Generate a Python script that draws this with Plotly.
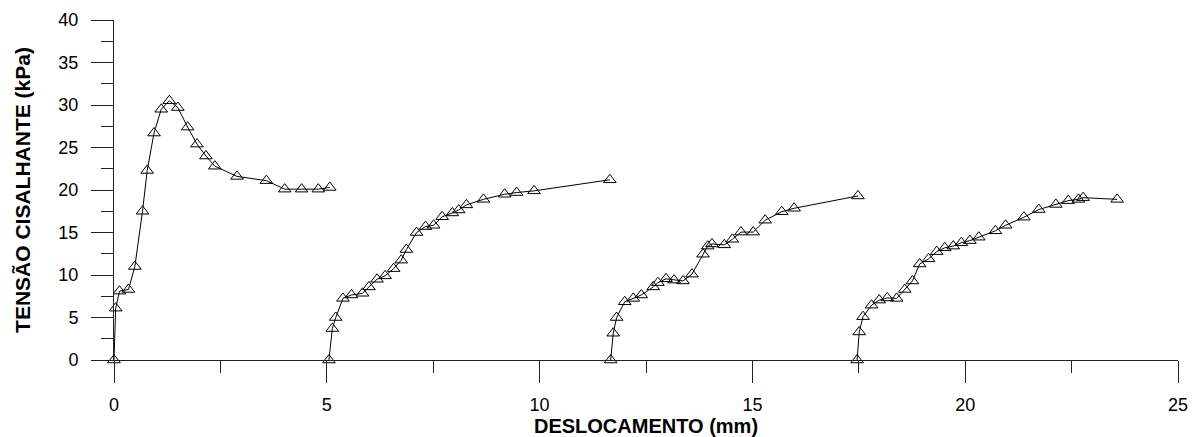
import plotly.graph_objects as go

# Ensaio 1
x1 = [0.0, 0.04, 0.13, 0.34, 0.49, 0.67, 0.78, 0.94, 1.11, 1.30, 1.50, 1.73, 1.95, 2.16, 2.37, 2.89, 3.58, 4.01, 4.41, 4.80, 5.07]
y1 = [0.0, 6.1, 8.1, 8.3, 11.0, 17.5, 22.3, 26.7, 29.5, 30.5, 29.7, 27.4, 25.4, 24.0, 22.8, 21.6, 21.1, 20.1, 20.1, 20.1, 20.3]

# Ensaio 2
x2 = [5.05, 5.13, 5.21, 5.38, 5.58, 5.84, 5.99, 6.18, 6.37, 6.57, 6.75, 6.87, 7.11, 7.32, 7.51, 7.71, 7.95, 8.10, 8.28, 8.68, 9.18, 9.46, 9.87, 11.65]
y2 = [0.0, 3.7, 5.0, 7.25, 7.65, 7.85, 8.6, 9.5, 9.9, 10.75, 11.75, 13.0, 15.0, 15.7, 15.85, 16.85, 17.3, 17.65, 18.25, 18.9, 19.5, 19.7, 19.9, 21.2]

# Ensaio 3
x3 = [11.67, 11.73, 11.81, 12.00, 12.20, 12.39, 12.67, 12.78, 12.97, 13.16, 13.37, 13.58, 13.84, 13.95, 14.05, 14.34, 14.53, 14.73, 15.02, 15.30, 15.69, 15.98, 17.48]
y3 = [0.0, 3.15, 5.0, 6.85, 7.25, 7.65, 8.6, 9.1, 9.55, 9.4, 9.3, 10.1, 12.45, 13.4, 13.65, 13.55, 14.2, 15.05, 15.05, 16.45, 17.45, 17.85, 19.3]

# Ensaio 4
x4 = [17.46, 17.51, 17.60, 17.80, 17.98, 18.17, 18.39, 18.58, 18.76, 18.93, 19.14, 19.33, 19.52, 19.72, 19.91, 20.11, 20.32, 20.71, 20.95, 21.38, 21.73, 22.13, 22.42, 22.66, 22.77, 23.57]
y4 = [0.0, 3.3, 5.1, 6.45, 7.05, 7.3, 7.25, 8.3, 9.3, 11.3, 11.9, 12.75, 13.2, 13.4, 13.8, 14.05, 14.45, 15.2, 15.85, 16.8, 17.7, 18.3, 18.75, 18.9, 19.1, 18.9]

x_ticks = [0, 5, 10, 15, 20, 25]
y_ticks = [0, 5, 10, 15, 20, 25, 30, 35, 40]

FONT = "Liberation Sans, Arial, sans-serif"
AXC = "#222222"

fig = go.Figure()
for xs, ys in [(x1, y1), (x2, y2), (x3, y3), (x4, y4)]:
    fig.add_trace(go.Scatter(
        x=xs, y=ys, mode="lines+markers",
        line=dict(color="black", width=1),
        marker=dict(symbol="triangle-up-open", size=11, color="black", line=dict(width=1, color="black")),
        cliponaxis=False, showlegend=False,
    ))

axis_common = dict(
    showgrid=False, zeroline=False, showline=True, linecolor=AXC, linewidth=1,
    ticks="outside", ticklen=22, tickwidth=1, tickcolor=AXC,
    tickfont=dict(family=FONT, size=18, color="black"),
    automargin=False,
)

fig.update_xaxes(
    range=[0, 25], tickvals=x_ticks, ticktext=[str(v) for v in x_ticks],
    ticklabelstandoff=6,
    minor=dict(ticks="outside", ticklen=12, tickwidth=1, tickcolor=AXC, dtick=2.5, tick0=0, showgrid=False),
    title=dict(text="<b>DESLOCAMENTO (mm)</b>", font=dict(family=FONT, size=20, color="black"), standoff=2),
    **axis_common,
)
fig.update_yaxes(
    range=[0, 40], tickvals=y_ticks, ticktext=[str(v) for v in y_ticks],
    ticklabelstandoff=9,
    minor=dict(ticks="outside", ticklen=12, tickwidth=1, tickcolor=AXC, dtick=2.5, tick0=0, showgrid=False),
    title=dict(text="<b>TENSÃO CISALHANTE (kPa)</b>", font=dict(family=FONT, size=21, color="black"), standoff=22),
    **axis_common,
)

fig.update_layout(
    width=1204, height=437,
    margin=dict(l=114, r=26, t=20, b=77),
    paper_bgcolor="white", plot_bgcolor="white",
    font=dict(family=FONT, color="black"),
)

fig.write_html("out.html", config={"displayModeBar": False},
               post_script="document.body.style.margin='0';")
